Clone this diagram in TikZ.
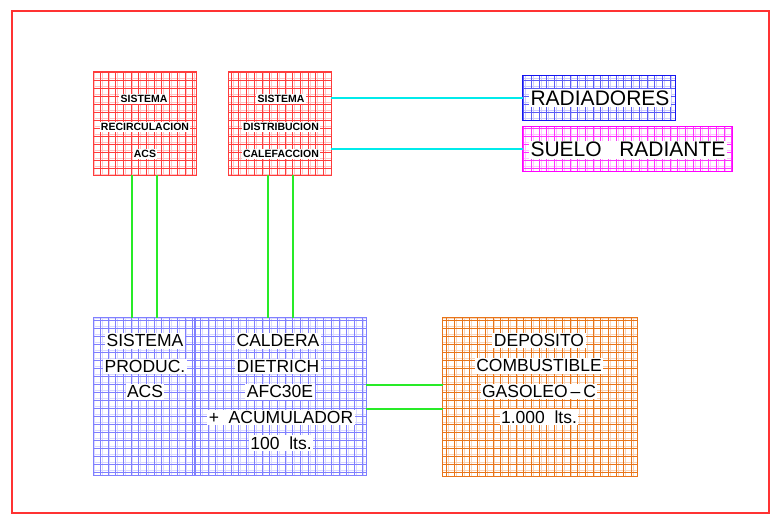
\documentclass[tikz,border=0pt]{standalone}
\usepackage{fontspec}
\setmainfont{Liberation Sans}
\definecolor{framered}{RGB}{255,50,50}
\definecolor{hred}{RGB}{255,60,60}
\definecolor{lav}{RGB}{128,128,255}
\definecolor{orng}{RGB}{232,117,26}
\definecolor{radblue}{RGB}{20,20,240}
\definecolor{mag}{RGB}{255,0,255}
\definecolor{cyn}{RGB}{0,235,235}
\definecolor{grn}{RGB}{40,235,40}
\newcommand\hatchfill[2]{%
  \begin{scope}
    \clip (#1.south west) rectangle (#1.north east);
    \draw[#2,line width=0.5pt,xstep=7.7pt,ystep=8pt]
      ([shift={(-12pt,-12pt)}]#1.south west) grid ([shift={(12pt,12pt)}]#1.north east);
    \draw[#2,opacity=0.3,line width=0.5pt,xstep=7.7pt,ystep=8pt,xshift=1.8pt,yshift=1.8pt]
      ([shift={(-12pt,-12pt)}]#1.south west) grid ([shift={(12pt,12pt)}]#1.north east);
  \end{scope}}
\tikzset{
  boxshape/.style={rectangle,inner sep=0pt,draw=none},
  boxline/.style={line width=1.1pt},
  smalltxt/.style={fill=white,inner sep=1.2pt,anchor=base,font=\fontsize{10.5}{12}\selectfont\bfseries},
  midtxt/.style={fill=white,inner sep=1.5pt,anchor=base,font=\fontsize{17.5}{20}\selectfont},
  bigtxt/.style={fill=white,inner sep=1.5pt,anchor=base,font=\fontsize{21}{24}\selectfont},
  gline/.style={grn,line width=1.2pt},
  cline/.style={cyn,line width=1.2pt}
}
\begin{document}
\begin{tikzpicture}[x=1pt,y=-1pt]
\useasboundingbox (0,0) rectangle (779,518);
\node[boxshape,minimum width=757pt,minimum height=502pt,draw=framered,line width=1.2pt] (frame) at (390.5,262) {};
% boxes
\node[boxshape,minimum width=102pt,minimum height=103pt] (r1) at (145,123.5) {};
\node[boxshape,minimum width=102pt,minimum height=103pt] (r2) at (280,123.5) {};
\node[boxshape,minimum width=152pt,minimum height=44pt] (rad) at (599,98) {};
\node[boxshape,minimum width=209pt,minimum height=44pt] (suelo) at (627.5,149) {};
\node[boxshape,minimum width=101pt,minimum height=157pt] (pacs) at (144.5,396.5) {};
\node[boxshape,minimum width=171pt,minimum height=157pt] (cald) at (280.5,396.5) {};
\node[boxshape,minimum width=194pt,minimum height=158pt] (dep) at (540,397) {};
% hatching
\hatchfill{r1}{hred}
\hatchfill{r2}{hred}
\hatchfill{rad}{radblue!70}
\hatchfill{suelo}{mag!80}
\hatchfill{pacs}{lav}
\hatchfill{cald}{lav}
\hatchfill{dep}{orng}
% borders
\draw[boxline,hred] (r1.south west) rectangle (r1.north east);
\draw[boxline,hred] (r2.south west) rectangle (r2.north east);
\draw[boxline,radblue] (rad.south west) rectangle (rad.north east);
\draw[boxline,mag] (suelo.south west) rectangle (suelo.north east);
\draw[boxline,lav] (pacs.south west) rectangle (pacs.north east);
\draw[boxline,lav] (cald.south west) rectangle (cald.north east);
\draw[boxline,orng] (dep.south west) rectangle (dep.north east);
% connectors
\draw[gline] ([xshift=-13pt]r1.south) -- ([xshift=-13pt]r1.south |- pacs.north);
\draw[gline] ([xshift=12pt]r1.south) -- ([xshift=12pt]r1.south |- pacs.north);
\draw[gline] ([xshift=-12pt]r2.south) -- ([xshift=-12pt]r2.south |- cald.north);
\draw[gline] ([xshift=13pt]r2.south) -- ([xshift=13pt]r2.south |- cald.north);
\draw[cline] (r2.east |- rad.west) -- (rad.west);
\draw[cline] (r2.east |- suelo.west) -- (suelo.west);
\draw[gline] ([yshift=11.5pt]cald.east) -- ([yshift=11.5pt]cald.east -| dep.west);
\draw[gline] ([yshift=-12.5pt]cald.east) -- ([yshift=-12.5pt]cald.east -| dep.west);
% texts
\node[smalltxt] (t1a) at (144,103) {SISTEMA};
\node[smalltxt] (t1b) at (145,130.5) {RECIRCULACION};
\node[smalltxt] (t1c) at (145,158) {ACS};
\node[smalltxt] (t2a) at (281,103) {SISTEMA};
\node[smalltxt] (t2b) at (281,130.5) {DISTRIBUCION};
\node[smalltxt] (t2c) at (281,158) {CALEFACCION};
\node[bigtxt] (trad) at (600,105.5) {RADIADORES};
\node[bigtxt] (tsue) at (628,157) {SUELO\ \ \ RADIANTE};
\node[midtxt] (p1) at (145,347) {SISTEMA};
\node[midtxt] (p2) at (145,372.5) {PRODUC.};
\node[midtxt] (p3) at (145,398) {ACS};
\node[midtxt] (c1) at (278,347) {CALDERA};
\node[midtxt] (c2) at (278,372.5) {DIETRICH};
\node[midtxt] (c3) at (280,398) {AFC30E};
\node[midtxt] (c4) at (281,423.5) {+\ \ ACUMULADOR};
\node[midtxt] (c5) at (281,449) {100\ \ lts.};
\node[midtxt] (d1) at (539,346.5) {DEPOSITO};
\node[midtxt] (d2) at (539,372) {COMBUSTIBLE};
\node[midtxt] (d3) at (539,397.5) {GASOLEO\,–\,C};
\node[midtxt] (d4) at (539,423) {1.000\ \ lts.};
\end{tikzpicture}
\end{document}
